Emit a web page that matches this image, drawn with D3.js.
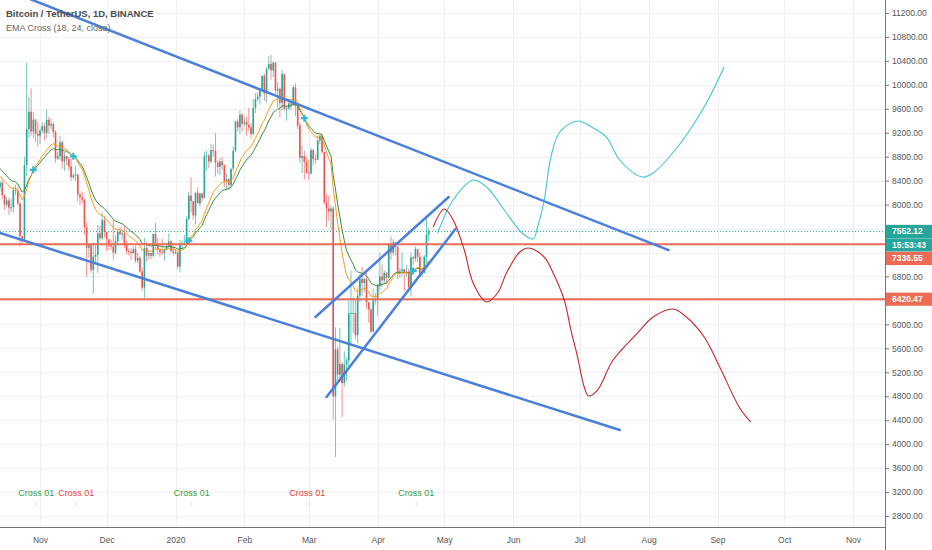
<!DOCTYPE html>
<html>
<head>
<meta charset="utf-8">
<script src="https://cdn.jsdelivr.net/npm/d3@7"></script>
<style>
  html, body { margin: 0; padding: 0; background: #fff; }
  svg { display: block; font-family: "Liberation Sans", Arial, sans-serif; }
</style>
</head>
<body>
<svg id="chart"></svg>
<script>
// ---- data: daily candles [date, open, high, low, close] ----
const oct2019 = [
  ["2019-10-13",8285,8445,8170,8295],["2019-10-14",8295,8395,8230,8365],["2019-10-15",8365,8405,8095,8160],
  ["2019-10-16",8160,8165,7920,8000],["2019-10-17",8000,8130,7950,8070],["2019-10-18",8070,8115,7830,7950],
  ["2019-10-19",7950,8100,7870,7955],["2019-10-20",7955,8300,7860,8240],["2019-10-21",8240,8335,8150,8225],
  ["2019-10-22",8225,8300,7990,8020],["2019-10-23",8020,8040,7300,7470],["2019-10-24",7470,7480,7360,7420],
  ["2019-10-25",7420,8800,7400,8660],["2019-10-26",8660,10370,8470,9260],["2019-10-27",9260,9800,9110,9550],
  ["2019-10-28",9550,9940,9150,9220],["2019-10-29",9220,9550,9110,9420],["2019-10-30",9420,9430,9040,9180],
  ["2019-10-31",9180,9380,8970,9150]
];
const nov2019 = [
  ["2019-11-01",9150,9270,9010,9240],["2019-11-02",9240,9380,9200,9310],["2019-11-03",9310,9370,9070,9200],
  ["2019-11-04",9200,9590,9110,9415],["2019-11-05",9415,9470,9180,9320],["2019-11-06",9320,9440,9255,9345],
  ["2019-11-07",9345,9375,9120,9210],["2019-11-08",9210,9245,8700,8770],["2019-11-09",8770,8880,8745,8810],
  ["2019-11-10",8810,9145,8750,9040],["2019-11-11",9040,9070,8595,8720],["2019-11-12",8720,8880,8565,8810],
  ["2019-11-13",8810,8815,8660,8760],["2019-11-14",8760,8790,8570,8635],["2019-11-15",8635,8770,8400,8460],
  ["2019-11-16",8460,8525,8420,8490],["2019-11-17",8490,8650,8400,8500],["2019-11-18",8500,8520,8050,8170],
  ["2019-11-19",8170,8210,8000,8120],["2019-11-20",8120,8220,8020,8080],["2019-11-21",8080,8100,7500,7620],
  ["2019-11-22",7620,7700,6790,7280],["2019-11-23",7280,7360,7110,7320],["2019-11-24",7320,7335,6860,6910],
  ["2019-11-25",6910,7370,6515,7130],["2019-11-26",7130,7320,7010,7160],["2019-11-27",7160,7660,6860,7520],
  ["2019-11-28",7520,7650,7390,7440],["2019-11-29",7440,7870,7410,7740],["2019-11-30",7740,7810,7450,7545]
];
const dec2019 = [
  ["2019-12-01",7545,7545,7230,7420],["2019-12-02",7420,7430,7240,7320],["2019-12-03",7320,7420,7250,7300],
  ["2019-12-04",7300,7750,7080,7200],["2019-12-05",7200,7490,7170,7390],["2019-12-06",7390,7580,7340,7545],
  ["2019-12-07",7545,7630,7490,7505],["2019-12-08",7505,7570,7420,7520],["2019-12-09",7520,7650,7270,7340],
  ["2019-12-10",7340,7395,7170,7225],["2019-12-11",7225,7270,7150,7210],["2019-12-12",7210,7270,7080,7190],
  ["2019-12-13",7190,7300,7180,7255],["2019-12-14",7255,7315,7030,7065],["2019-12-15",7065,7190,7020,7110],
  ["2019-12-16",7110,7145,6860,6885],["2019-12-17",6885,6945,6560,6615],["2019-12-18",6615,7440,6435,7280],
  ["2019-12-19",7280,7380,7040,7150],["2019-12-20",7150,7220,7080,7190],["2019-12-21",7190,7190,7090,7145],
  ["2019-12-22",7145,7520,7120,7510],["2019-12-23",7510,7695,7270,7320],["2019-12-24",7320,7440,7160,7255],
  ["2019-12-25",7255,7270,7130,7205],["2019-12-26",7205,7435,7160,7195],["2019-12-27",7195,7270,7060,7245],
  ["2019-12-28",7245,7365,7240,7300],["2019-12-29",7300,7520,7280,7385],["2019-12-30",7385,7410,7220,7220],
  ["2019-12-31",7220,7320,7150,7195]
];
const jan2020 = [
  ["2020-01-01",7195,7255,7175,7200],["2020-01-02",7200,7212,6925,6965],["2020-01-03",6965,7405,6870,7345],
  ["2020-01-04",7345,7405,7270,7355],["2020-01-05",7355,7495,7320,7360],["2020-01-06",7360,7800,7350,7760],
  ["2020-01-07",7760,8215,7730,8150],["2020-01-08",8150,8455,7870,8060],["2020-01-09",8060,8060,7750,7820],
  ["2020-01-10",7820,8200,7670,8200],["2020-01-11",8200,8290,8030,8020],["2020-01-12",8020,8200,7970,8185],
  ["2020-01-13",8185,8200,8055,8110],["2020-01-14",8110,8880,8105,8810],["2020-01-15",8810,8900,8570,8820],
  ["2020-01-16",8820,8850,8610,8720],["2020-01-17",8720,9010,8680,8910],["2020-01-18",8910,9000,8800,8900],
  ["2020-01-19",8900,9195,8470,8700],["2020-01-20",8700,8740,8520,8630],["2020-01-21",8630,8780,8490,8720],
  ["2020-01-22",8720,8790,8580,8660],["2020-01-23",8660,8670,8300,8390],["2020-01-24",8390,8520,8240,8430],
  ["2020-01-25",8430,8435,8250,8330],["2020-01-26",8330,8600,8300,8600],["2020-01-27",8600,8970,8560,8900],
  ["2020-01-28",8900,9400,8870,9390],["2020-01-29",9390,9430,9220,9290],["2020-01-30",9290,9570,9180,9500],
  ["2020-01-31",9500,9530,9220,9350]
];
const feb2020 = [
  ["2020-02-01",9350,9460,9300,9385],["2020-02-02",9385,9470,9150,9330],["2020-02-03",9330,9620,9230,9290],
  ["2020-02-04",9290,9350,9110,9180],["2020-02-05",9180,9770,9160,9615],["2020-02-06",9615,9860,9530,9760],
  ["2020-02-07",9760,9880,9730,9805],["2020-02-08",9805,9950,9670,9905],["2020-02-09",9905,10160,9890,10150],
  ["2020-02-10",10150,10190,9730,9855],["2020-02-11",9855,10300,9700,10270],["2020-02-12",10270,10480,10250,10350],
  ["2020-02-13",10350,10500,10090,10240],["2020-02-14",10240,10390,10130,10370],["2020-02-15",10370,10380,9850,9905],
  ["2020-02-16",9905,10050,9620,9935],["2020-02-17",9935,9960,9450,9700],["2020-02-18",9700,10250,9580,10180],
  ["2020-02-19",10180,10190,9570,9600],["2020-02-20",9600,9650,9400,9610],["2020-02-21",9610,9760,9580,9690],
  ["2020-02-22",9690,9700,9580,9670],["2020-02-23",9670,9990,9650,9960],["2020-02-24",9960,10030,9480,9650],
  ["2020-02-25",9650,9650,9260,9320],["2020-02-26",9320,9370,8700,8780],["2020-02-27",8780,8990,8530,8810],
  ["2020-02-28",8810,8900,8420,8710],["2020-02-29",8710,8800,8520,8530]
];
const mar2020 = [
  ["2020-03-01",8530,8750,8410,8520],["2020-03-02",8520,8950,8500,8910],["2020-03-03",8910,8930,8650,8760],
  ["2020-03-04",8760,8840,8680,8750],["2020-03-05",8750,9150,8740,9070],["2020-03-06",9070,9170,9010,9150],
  ["2020-03-07",9150,9190,8850,8880],["2020-03-08",8880,8880,8000,8035],["2020-03-09",8035,8180,7630,7935],
  ["2020-03-10",7935,8150,7730,7885],["2020-03-11",7885,7985,7590,7935],["2020-03-12",7935,7970,4410,4800],
  ["2020-03-13",4800,5950,3780,5580],["2020-03-14",5580,5640,5060,5160],["2020-03-15",5160,5940,5100,5340],
  ["2020-03-16",5340,5370,4450,5020],["2020-03-17",5020,5550,4960,5330],["2020-03-18",5330,5450,5050,5400],
  ["2020-03-19",5400,6390,5260,6180],["2020-03-20",6180,6900,5670,6190],["2020-03-21",6190,6460,5860,6190],
  ["2020-03-22",6190,6420,5750,5820],["2020-03-23",5820,6600,5690,6480],["2020-03-24",6480,6840,6380,6760],
  ["2020-03-25",6760,6960,6470,6690],["2020-03-26",6690,6780,6540,6760],["2020-03-27",6760,6870,6260,6370],
  ["2020-03-28",6370,6370,6030,6250],["2020-03-29",6250,6260,5860,5880],["2020-03-30",5880,6600,5860,6395],
  ["2020-03-31",6395,6525,6330,6410]
];
const apr2020 = [
  ["2020-04-01",6410,6680,6150,6640],["2020-04-02",6640,7200,6570,6800],["2020-04-03",6800,7000,6620,6735],
  ["2020-04-04",6735,6900,6670,6860],["2020-04-05",6860,6880,6670,6775],["2020-04-06",6775,7360,6770,7340],
  ["2020-04-07",7340,7470,7080,7200],["2020-04-08",7200,7420,7150,7370],["2020-04-09",7370,7380,7150,7300],
  ["2020-04-10",7300,7300,6750,6870],["2020-04-11",6870,6940,6780,6890],["2020-04-12",6890,7200,6810,6920],
  ["2020-04-13",6920,6925,6550,6860],["2020-04-14",6860,6990,6800,6880],["2020-04-15",6880,6935,6610,6620],
  ["2020-04-16",6620,7200,6470,7120],["2020-04-17",7120,7150,6990,7100],["2020-04-18",7100,7300,7050,7260],
  ["2020-04-19",7260,7260,7040,7130],["2020-04-20",7130,7200,6780,6850],["2020-04-21",6850,6940,6790,6860],
  ["2020-04-22",6860,7160,6850,7130],["2020-04-23",7130,7770,7020,7500],["2020-04-24",7500,7615,7390,7552.12]
];
// closes before the visible range (Sep 1 - Oct 12 2019), only used to warm up the EMAs
const warmupCloses = [9600,10380,10620,10580,10570,10320,10490,10400,10330,10100,10150,10400,10360,10360,
  10310,10260,10190,10160,10270,10170,9980,10030,9700,8530,8430,8060,8190,8200,8050,8300,
  8330,8390,8230,8150,8140,7860,8210,8180,8590,8590,8260,8300];

const emaLengths = [18, 24];
const priceTicks = [2800,3200,3600,4000,4400,4800,5200,5600,6000,6400,6800,7200,7600,8000,8400,8800,9200,9600,10000,10400,10800,11200];
const monthTicks = ["2019-11-01","2019-12-01","2020-01-01","2020-02-01","2020-03-01","2020-04-01","2020-05-01",
  "2020-06-01","2020-07-01","2020-08-01","2020-09-01","2020-10-01","2020-11-01"];
const monthLabels = ["Nov","Dec","2020","Feb","Mar","Apr","May","Jun","Jul","Aug","Sep","Oct","Nov"];

const lastPrice = 7552.12;
const countdown = "15:53:43";
const levels = [7336.55, 6420.47];

// trend lines drawn on the chart: [[date, price], [date, price]]
const trendLines = [
  [["2019-10-14", 11630], ["2020-08-10", 7240]],
  [["2019-10-14", 7526], ["2020-07-19", 4236]],
  [["2020-03-04", 6123], ["2020-05-03", 8127]],
  [["2020-03-09", 4787], ["2020-05-06", 7593]]
];
// hand-drawn forecast paths
const bullPath = [
  ["2020-04-28",7526],["2020-05-05",8077],["2020-05-14",8411],["2020-05-20",8294],["2020-05-29",7860],
  ["2020-06-05",7526],["2020-06-10",7426],["2020-06-12",7626],["2020-06-15",8077],["2020-06-18",8795],
  ["2020-06-22",9213],["2020-06-30",9396],["2020-07-07",9280],["2020-07-13",9129],["2020-07-19",8745],
  ["2020-07-29",8461],["2020-08-03",8528],["2020-08-14",8962],["2020-08-26",9630],["2020-09-04",10298]
];
const bearPath = [
  ["2020-04-26",7626],["2020-05-01",7927],["2020-05-05",7743],["2020-05-10",7242],["2020-05-14",6691],
  ["2020-05-20",6374],["2020-05-25",6524],["2020-05-29",6858],["2020-06-04",7209],["2020-06-08",7276],
  ["2020-06-15",7125],["2020-06-19",6858],["2020-06-24",6407],["2020-06-27",5906],["2020-06-30",5455],
  ["2020-07-03",4954],["2020-07-05",4804],["2020-07-09",4904],["2020-07-16",5405],["2020-07-27",5856],
  ["2020-08-03",6123],["2020-08-12",6257],["2020-08-18",6123],["2020-08-26",5789],["2020-09-02",5288],
  ["2020-09-11",4604],["2020-09-16",4370]
];

// ---- chart ----
const W = 932, H = 550;
const plotR = 885, plotB = 527;
const green = "#26a69a", red = "#ef5350", coral = "#ec6b56";
const day = s => new Date(s + "T00:00:00Z");

const candles = [oct2019, nov2019, dec2019, jan2020, feb2020, mar2020, apr2020].flat()
  .map(([d, o, h, l, c]) => ({ date: day(d), o, h, l, c }));

const svg = d3.select("#chart").attr("width", W).attr("height", H);

const x = d3.scaleUtc()
  .domain([day("2019-11-01"), day("2020-11-01")])
  .range([40, 853]);
const y = d3.scaleLinear()
  .domain([2800, 11200])
  .range([516, 13]);

svg.append("defs").append("clipPath").attr("id", "plot")
  .append("rect").attr("width", plotR).attr("height", plotB);

// Gridlines
const grid = svg.append("g").attr("stroke", "#eef0f4").attr("stroke-width", 1);
grid.selectAll(".v").data(monthTicks).join("line")
  .attr("x1", d => Math.round(x(day(d))) + 0.5).attr("x2", d => Math.round(x(day(d))) + 0.5)
  .attr("y1", 0).attr("y2", plotB);
grid.selectAll(".h").data(priceTicks).join("line")
  .attr("x1", 0).attr("x2", plotR)
  .attr("y1", d => Math.round(y(d)) + 0.5).attr("y2", d => Math.round(y(d)) + 0.5);

const g = svg.append("g").attr("clip-path", "url(#plot)");

// last price dotted line
g.append("line")
  .attr("x1", 0).attr("x2", plotR)
  .attr("y1", y(lastPrice)).attr("y2", y(lastPrice))
  .attr("stroke", green).attr("stroke-dasharray", "1,2");

// Candles
const bw = 1.6;
const cg = g.append("g");
cg.selectAll("line").data(candles).join("line")
  .attr("x1", d => x(d.date)).attr("x2", d => x(d.date))
  .attr("y1", d => y(d.h)).attr("y2", d => y(d.l))
  .attr("stroke", d => d.c >= d.o ? green : red)
  .attr("stroke-width", 0.8)
  .attr("opacity", 0.8);
cg.selectAll("rect").data(candles).join("rect")
  .attr("x", d => x(d.date) - bw / 2)
  .attr("width", bw)
  .attr("y", d => y(Math.max(d.o, d.c)))
  .attr("height", d => Math.max(1, Math.abs(y(d.o) - y(d.c))))
  .attr("fill", d => d.c >= d.o ? green : red);

// EMA Cross (18, 24)
const allCloses = warmupCloses.concat(candles.map(d => d.c));
function ema(values, n) {
  const k = 2 / (n + 1);
  let prev = values[0];
  return values.map((v, i) => (prev = i === 0 ? v : v * k + prev * (1 - k)));
}
const off = warmupCloses.length;
const [fast, slow] = emaLengths.map(n => ema(allCloses, n).slice(off));

const line = d3.line().x((d, i) => x(candles[i].date)).y(d => y(d));
g.append("path").datum(slow).attr("d", line)
  .attr("fill", "none").attr("stroke", "#3c8a3c").attr("stroke-width", 1);
g.append("path").datum(fast).attr("d", line)
  .attr("fill", "none").attr("stroke", "#f59c1a").attr("stroke-width", 1);

const crosses = [];
for (let i = 1; i < candles.length; i++) {
  const a = fast[i - 1] - slow[i - 1], b = fast[i] - slow[i];
  if ((a < 0) !== (b < 0)) crosses.push({ date: candles[i].date, v: fast[i], up: b > 0 });
}
g.selectAll(".cross").data(crosses).join("path")
  .attr("transform", d => `translate(${x(d.date)},${y(d.v)})`)
  .attr("d", "M-3.5,0H3.5M0,-3.5V3.5")
  .attr("stroke", "#2bbcd4").attr("stroke-width", 2.2);

// Horizontal levels
g.selectAll(".lvl").data(levels).join("line")
  .attr("x1", 0).attr("x2", plotR)
  .attr("y1", d => y(d)).attr("y2", d => y(d))
  .attr("stroke", coral).attr("stroke-width", 2);

// Trend lines
g.selectAll(".trend").data(trendLines).join("line")
  .attr("x1", d => x(day(d[0][0]))).attr("y1", d => y(d[0][1]))
  .attr("x2", d => x(day(d[1][0]))).attr("y2", d => y(d[1][1]))
  .attr("stroke", "#4a7fdb").attr("stroke-width", 2.5).attr("stroke-linecap", "round");

// Forecast paths
const curve = d3.line().curve(d3.curveCatmullRom.alpha(0.5))
  .x(d => x(day(d[0]))).y(d => y(d[1]));
g.append("path").datum(bullPath).attr("d", curve)
  .attr("fill", "none").attr("stroke", "#40c4d6").attr("stroke-width", 1.1);
g.append("path").datum(bearPath).attr("d", curve)
  .attr("fill", "none").attr("stroke", "#c3272b").attr("stroke-width", 1.1);

// Cross labels
const lab = svg.append("g").attr("font-size", "9px").attr("text-anchor", "middle");
lab.selectAll("text").data(crosses).join("text")
  .attr("x", d => x(d.date) + 3).attr("y", 496)
  .attr("fill", d => d.up ? "#3a9a3a" : "#e8403c")
  .text("Cross 01");
lab.selectAll("circle").data(crosses).join("circle")
  .attr("cx", d => x(d.date) + 3).attr("cy", 504).attr("r", 0.7).attr("fill", "#bbb");

// Title
svg.append("text").attr("x", 6).attr("y", 17)
  .attr("font-size", "9.5px").attr("font-weight", 600).attr("fill", "#4a4a4a")
  .text("Bitcoin / TetherUS, 1D, BINANCE");
svg.append("text").attr("x", 6).attr("y", 31)
  .attr("font-size", "9px").attr("fill", "#666")
  .text("EMA Cross (18, 24, close)");

// Price labels on the scale (tags hide the tick labels they cover)
const tags = [
  { text: d3.format(".2f")(lastPrice), cy: y(lastPrice), fill: green },
  { text: countdown, cy: y(lastPrice) + 13.5, fill: green },
  { text: d3.format(".2f")(levels[0]), cy: y(lastPrice) + 27, fill: coral },
  { text: d3.format(".2f")(levels[1]), cy: y(levels[1]), fill: coral }
];
const covered = v => tags.some(t => Math.abs(y(v) - t.cy) < 11);

// Axes
const axisColor = "#777";
const yAxis = svg.append("g").attr("transform", `translate(${plotR},0)`)
  .call(d3.axisRight(y).tickValues(priceTicks.filter(v => !covered(v)))
    .tickFormat(d3.format(".2f")).tickSize(4).tickPadding(3));
yAxis.select(".domain").remove();
yAxis.selectAll("line").attr("stroke", axisColor);
yAxis.selectAll("text").attr("font-size", "8.5px").attr("fill", "#555");

const xAxis = svg.append("g").attr("transform", `translate(0,${plotB})`)
  .call(d3.axisBottom(x).tickValues(monthTicks.map(day))
    .tickFormat((d, i) => monthLabels[i]).tickSize(0).tickPadding(10));
xAxis.select(".domain").remove();
xAxis.selectAll("text").attr("font-size", "8.5px").attr("fill", "#555");

svg.append("line").attr("x1", plotR + 0.5).attr("x2", plotR + 0.5).attr("y1", 0).attr("y2", H)
  .attr("stroke", axisColor);
svg.append("line").attr("x1", 0).attr("x2", plotR).attr("y1", plotB + 0.5).attr("y2", plotB + 0.5)
  .attr("stroke", axisColor);

const tg = svg.append("g").selectAll("g").data(tags).join("g")
  .attr("transform", d => `translate(${plotR + 1},${d.cy})`);
tg.append("rect").attr("x", 0).attr("y", -6.6).attr("width", W - plotR).attr("height", 13.2)
  .attr("fill", d => d.fill);
tg.append("text").attr("x", 6).attr("y", 3)
  .attr("font-size", "8.5px").attr("font-weight", 600).attr("fill", "#fff")
  .text(d => d.text);
</script>
</body>
</html>
